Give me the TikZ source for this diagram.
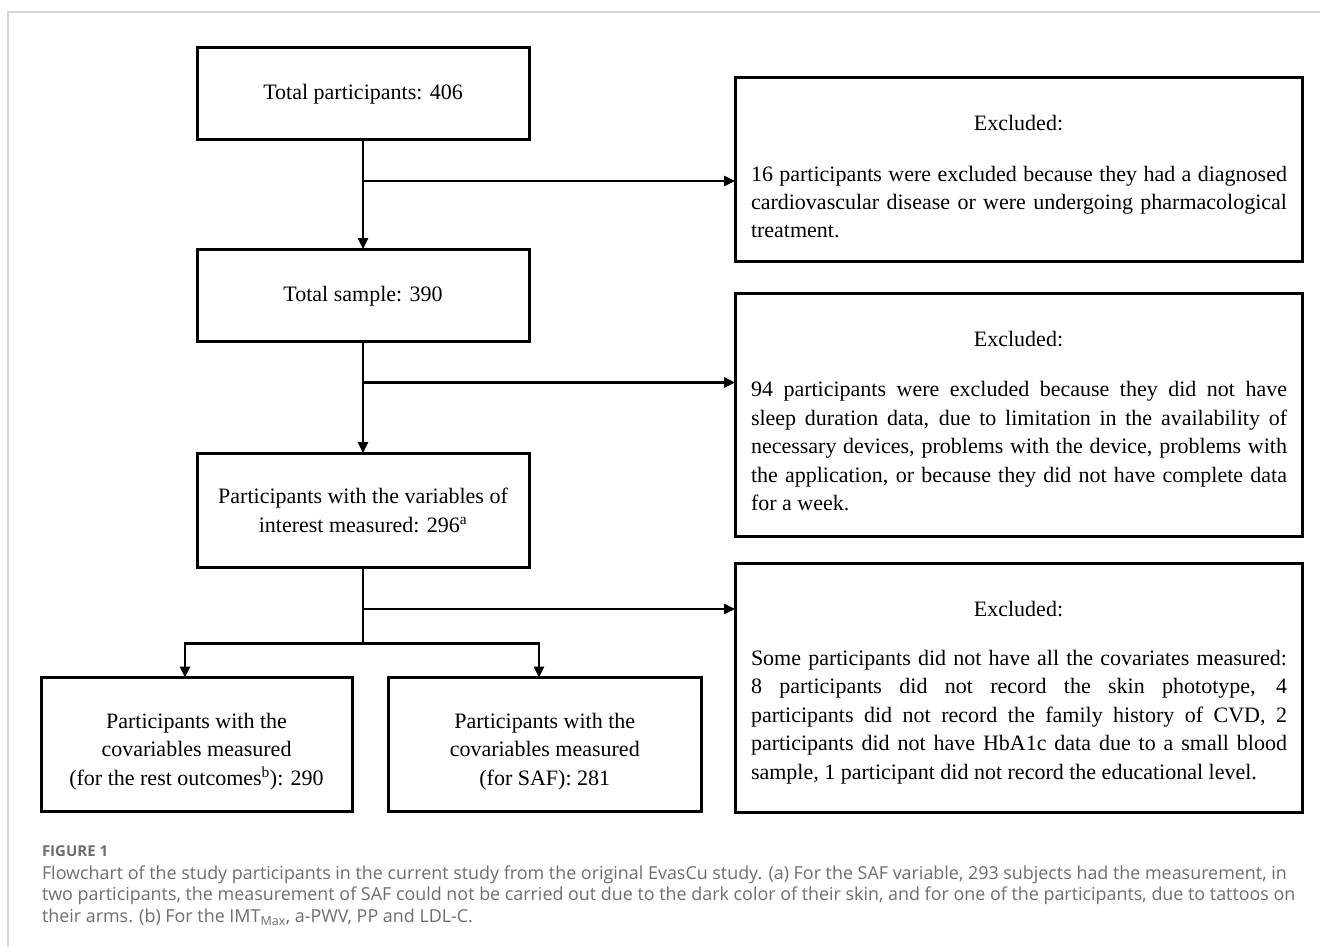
\documentclass[tikz,border=0pt]{standalone}
\usepackage{fontspec}
\setmainfont{Liberation Serif}
\newfontfamily\capfont{Open Sans}
\usetikzlibrary{arrows.meta,calc}
\definecolor{capgray}{HTML}{6E6E6E}
\definecolor{framegray}{HTML}{D6D6D6}
\begin{document}
\begin{tikzpicture}[x=1pt,y=-1pt,
  box/.style={draw=black, line width=3pt, inner sep=0pt, outer sep=0pt},
  arr/.style={line width=2.6pt, -{Triangle[length=11pt,width=10pt]}},
  ln/.style={line width=2.6pt},
  txt/.style={inner sep=0pt, outer sep=0pt, font=\fontsize{22}{28.5}\selectfont, anchor=base},
  captxt/.style={inner sep=0pt, outer sep=0pt, anchor=base west, text=capgray, font=\capfont\fontsize{17.9}{21}\selectfont}]
\useasboundingbox (0,0) rectangle (1320,947);
\fill[white] (0,0) rectangle (1320,947);
% frame
\draw[framegray, line width=1.3pt] (8,947) -- (8,12) -- (1320,12);

% main boxes
\node[box, minimum width=332pt, minimum height=92pt] (b1) at (363,93.5) {};
\node[box, minimum width=332pt, minimum height=92pt] (b2) at (363,295) {};
\node[box, minimum width=332pt, minimum height=114pt] (b3) at (363,510) {};
\node[box, minimum width=311pt, minimum height=134pt] (b4) at (196.5,744.5) {};
\node[box, minimum width=312.5pt, minimum height=134pt] (b5) at (544.75,744.5) {};
% excluded boxes
\node[box, minimum width=567pt, minimum height=183.5pt] (e1) at (1018.5,169.75) {};
\node[box, minimum width=567pt, minimum height=243.4pt] (e2) at (1018.5,415) {};
\node[box, minimum width=567pt, minimum height=248.7pt] (e3) at (1018.5,687.7) {};

% texts in main boxes
\node[txt] (b1t) at ($(b1.north)+(0,52)$) {Total participants: 406};
\node[txt] (b2t) at ($(b2.north)+(0,52)$) {Total sample: 390};
\node[txt] (b3t) at ($(b3.north)+(0,50.5)$) {\parbox[t]{320pt}{\centering Participants with the variables of\\ interest measured: 296\textsuperscript{a}}};
\node[txt] (b4t) at ($(b4.north)+(0,50.5)$) {\parbox[t]{300pt}{\centering Participants with the\\ covariables measured\\ (for the rest outcomes\textsuperscript{b}): 290}};
\node[txt] (b5t) at ($(b5.north)+(0,50.5)$) {\parbox[t]{300pt}{\centering Participants with the\\ covariables measured\\ (for SAF): 281}};

% texts in excluded boxes
\node[txt] (e1h) at ($(e1.north)+(0,53)$) {Excluded:};
\node[txt, anchor=base west] (e1b) at ($(e1.north west)+(16,103)$) {\parbox[t]{536pt}{%
\makebox[536pt][s]{16 participants were excluded because they had a diagnosed}\\
\makebox[536pt][s]{cardiovascular disease or were undergoing pharmacological}\\
treatment.}};
\node[txt] (e2h) at ($(e2.north)+(0,53)$) {Excluded:};
\node[txt, anchor=base west] (e2b) at ($(e2.north west)+(16,103.4)$) {\parbox[t]{536pt}{%
\makebox[536pt][s]{94 participants were excluded because they did not have}\\
\makebox[536pt][s]{sleep duration data, due to limitation in the availability of}\\
\makebox[536pt][s]{necessary devices, problems with the device, problems with}\\
\makebox[536pt][s]{the application, or because they did not have complete data}\\
for a week.}};
\node[txt] (e3h) at ($(e3.north)+(0,53)$) {Excluded:};
\node[txt, anchor=base west] (e3b) at ($(e3.north west)+(16,102)$) {\parbox[t]{536pt}{%
\makebox[536pt][s]{Some participants did not have all the covariates measured:}\\
\makebox[536pt][s]{8 participants did not record the skin phototype, 4}\\
\makebox[536pt][s]{participants did not record the family history of CVD, 2}\\
\makebox[536pt][s]{participants did not have HbA1c data due to a small blood}\\
sample, 1 participant did not record the educational level.}};

% junction coordinates
\coordinate (j1) at (363,181);
\coordinate (j2) at (363,382.5);
\coordinate (j3) at (363,609);
\coordinate (s) at (363,643.5);
\coordinate (sL) at (185,643.5);
\coordinate (sR) at (539,643.5);

% connectors
\draw[arr] (b1.south) -- (b2.north);
\draw[arr] (j1) -- (j1 -| e1.west);
\draw[arr] (b2.south) -- (b3.north);
\draw[arr] (j2) -- (j2 -| e2.west);
\draw[ln] (b3.south) -- (s);
\draw[arr] (j3) -- (j3 -| e3.west);
\draw[arr] (s) -- (sL) -- (sL |- b4.north);
\draw[arr] (s) -- (sR) -- (sR |- b5.north);

% caption
\node[captxt, font=\capfont\bfseries\fontsize{15}{18}\selectfont] (fig) at (42,856) {FIGURE 1};
\node[captxt] (c1) at (42,879) {Flowchart of the study participants in the current study from the original EvasCu study. (a) For the SAF variable, 293 subjects had the measurement, in};
\node[captxt] (c2) at (42,900.5) {two participants, the measurement of SAF could not be carried out due to the dark color of their skin, and for one of the participants, due to tattoos on};
\node[captxt] (c3) at (42,922) {their arms. (b) For the IMT\textsubscript{Max}, a-PWV, PP and LDL-C.};
\end{tikzpicture}
\end{document}
